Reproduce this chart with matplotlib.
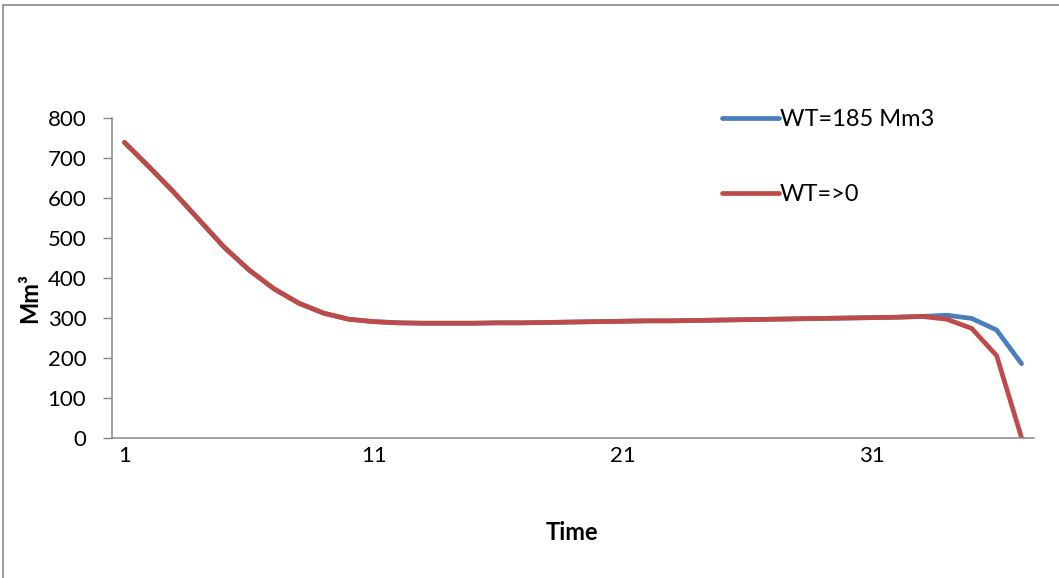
import matplotlib
matplotlib.use("Agg")
from matplotlib import pyplot as plt
from matplotlib.patches import Rectangle

plt.rcParams['font.family'] = ['Lato', 'DejaVu Sans']

time = list(range(1, 38))
wt_185 = [738, 676, 612, 544, 476, 419, 372, 336, 311, 296, 290, 287, 286, 286, 286, 287, 287, 288, 289,
          290, 291, 292, 292, 293, 294, 295, 296, 297, 298, 299, 300, 301, 303, 306, 298, 269, 185]
wt_0 = [738, 676, 612, 544, 476, 419, 372, 336, 311, 296, 290, 287, 286, 286, 286, 287, 287, 288, 289,
        290, 291, 292, 292, 293, 294, 295, 296, 297, 298, 299, 300, 301, 303, 296, 273, 205, 0]
labels = ["WT=185 Mm3", "WT=>0"]
colors = ["#4A7EBB", "#BE4B48"]

W, H = 1059, 578
fig = plt.figure(figsize=(W / 100, H / 100), dpi=100)
ax = fig.add_axes([112 / W, 1 - 437.7 / H, (1034 - 112) / W, (437.7 - 117.5) / H])

ax.plot(time, wt_185, color=colors[0], lw=3.4, label=labels[0], solid_capstyle="round")
ax.plot(time, wt_0, color=colors[1], lw=3.4, label=labels[1], solid_capstyle="round")

ax.set_xlim(0.5, 37.5)
ax.set_ylim(0, 800)
ax.set_xticks([1, 11, 21, 31])
ax.set_yticks(range(0, 801, 100))
ax.tick_params(axis="x", length=0, pad=6, labelsize=16)
ax.tick_params(axis="y", length=6.5, width=1, color="#868686", pad=12, labelsize=16)
for s in ["top", "right"]:
    ax.spines[s].set_visible(False)
for s in ["left", "bottom"]:
    ax.spines[s].set_color("#868686")
    ax.spines[s].set_linewidth(1.1)

fig.text(572 / W, 1 - 533 / H, "Time", ha="center", va="center", fontsize=17, fontweight="bold")
fig.text(30 / W, 1 - 298 / H, "Mm³", ha="center", va="center", rotation=90, fontsize=17, fontweight="bold")

ax.legend(loc="upper left", bbox_to_anchor=(701 / W, 1 - 88 / H), bbox_transform=fig.transFigure,
          frameon=False, fontsize=17, handlelength=2.4, handletextpad=0.05, labelspacing=2.28)

fig.patches.append(Rectangle((3 / W, -0.1), 1.2, 1 - 5 / H + 0.1, transform=fig.transFigure,
                             fill=False, edgecolor="#868686", lw=1.2))

plt.savefig("out.png", dpi=100)
